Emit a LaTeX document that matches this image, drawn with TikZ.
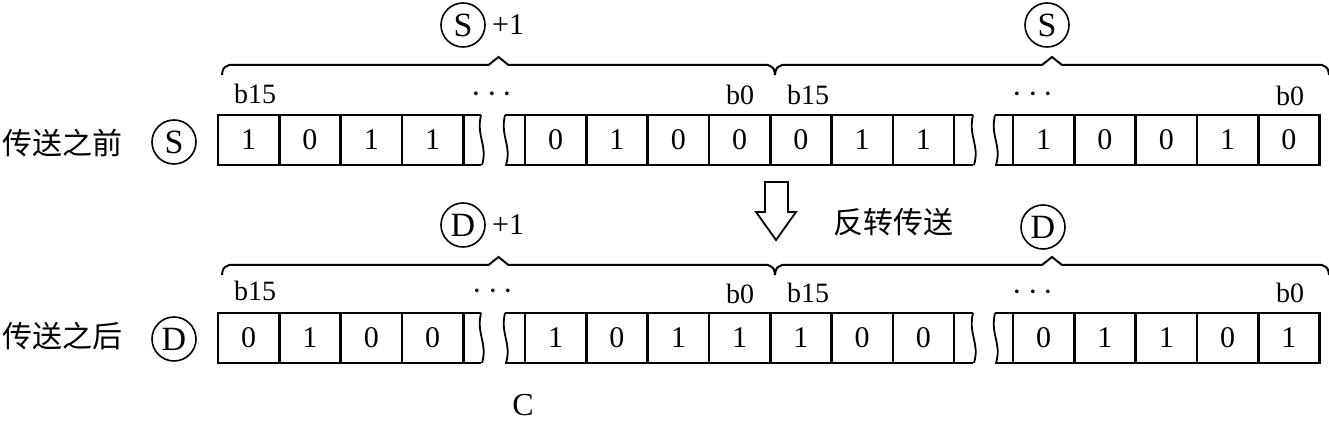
\documentclass[tikz,border=0pt]{standalone}
\usepackage{fontspec}
\setmainfont{Liberation Serif}
\newfontfamily\cjk{Noto Sans CJK SC}
\usetikzlibrary{positioning}
\tikzset{
  bitcell/.style={draw,line width=1.3pt,minimum width=30.65pt,minimum height=25pt,
    inner sep=0pt,outer sep=0pt,font=\fontsize{15}{18}\selectfont},
  boxline/.style={line width=1.3pt},
  tear/.style={line width=0.9pt},
  reg/.style={circle,draw,line width=0.8pt,minimum size=22pt,inner sep=0pt,
    font=\fontsize{17}{20}\selectfont},
  bitlbl/.style={font=\fontsize{14}{16}\selectfont,inner sep=1pt},
  gap/.style={font=\fontsize{18}{20}\selectfont,inner sep=1pt},
  cn/.style={font=\cjk\fontsize{15}{18}\selectfont},
}
\newcommand{\bitrow}[5]{%
  \foreach \bitval [count=\i] in {#3}
    \node[bitcell] (#2a\i) at (218+\i*61.3-30.65,#1+25) {\bitval};
  \foreach \bitval [count=\i] in {#4}
    \node[bitcell] (#2b\i) at (525+\i*61.3-30.65,#1+25) {\bitval};
  \foreach \bitval [count=\i] in {#5}
    \node[bitcell] (#2c\i) at (1013+\i*61.3-30.65,#1+25) {\bitval};
  \draw[boxline] (#2a4.north east) -- ++(18,0) (#2a4.south east) -- ++(18,0);
  \draw[boxline] (#2b1.north west) -- ++(-20,0) (#2b1.south west) -- ++(-20,0);
  \draw[boxline] (#2b7.north east) -- ++(19,0) (#2b7.south east) -- ++(19,0);
  \draw[boxline] (#2c1.north west) -- ++(-18,0) (#2c1.south west) -- ++(-18,0);
  \draw[tear] (481,#1) .. controls (476,#1+22) and (488,#1+30) .. (482,#1+50);
  \draw[tear] (505,#1) .. controls (500,#1+22) and (512,#1+30) .. (506,#1+50);
  \draw[tear] (973,#1) .. controls (968,#1+22) and (980,#1+30) .. (974,#1+50);
  \draw[tear] (995,#1) .. controls (990,#1+22) and (1002,#1+30) .. (996,#1+50);
}
\newcommand{\wordbrace}[3]{%
  \draw[line width=1pt] (#1,#3+10) .. controls (#1+1,#3+3) .. (#1+7,#3)
    -- ({(#1+#2)/2-10},#3) -- ({(#1+#2)/2},#3-8) -- ({(#1+#2)/2+10},#3)
    -- (#2-7,#3) .. controls (#2-1,#3+3) .. (#2,#3+10);
}

\begin{document}
\begin{tikzpicture}[x=0.5pt,y=-0.5pt]
  \useasboundingbox (0,0) rectangle (1329,421);

  % before
  \node[cn] (before) at (63,143) {传送之前};
  \node[reg] (sreg) at (174,142) {S};
  \bitrow{115}{s}{1,0,1,1}{0,1,0,0,0,1,1}{1,0,0,1,0}
  \wordbrace{222}{775}{65}
  \wordbrace{775}{1329}{65}
  \node[reg] (s1) at (463,25) {S};
  \node[bitlbl,font=\fontsize{15}{18}\selectfont,right=2pt of s1] (s1p) {+1};
  \node[reg] (s0) at (1047,25) {S};
  \node[bitlbl] (sb15a) at (255,94) {b15};
  \node[gap] (sdots1) at (492,95) {$\cdots$};
  \node[bitlbl] (sb0a) at (740,95) {b0};
  \node[bitlbl] (sb15b) at (808,95) {b15};
  \node[gap] (sdots2) at (1033,95) {$\cdots$};
  \node[bitlbl] (sb0b) at (1290,96) {b0};

  \draw[line width=0.9pt] (765,182) -- (788,182) -- (788,212) -- (796,212)
    -- (776,240) -- (756,212) -- (765,212) -- cycle;
  \node[cn] (mode) at (893,222) {反转传送};

  % after
  \node[cn] (after) at (63,336) {传送之后};
  \node[reg] (dreg) at (174,339) {D};
  \bitrow{313}{d}{0,1,0,0}{1,0,1,1,1,0,0}{0,1,1,0,1}
  \wordbrace{222}{775}{265}
  \wordbrace{775}{1329}{265}
  \node[reg] (d1) at (463,225) {D};
  \node[bitlbl,font=\fontsize{15}{18}\selectfont,right=2pt of d1] (d1p) {+1};
  \node[reg] (d0) at (1043,227) {D};
  \node[bitlbl] (db15a) at (255,291) {b15};
  \node[gap] (ddots1) at (493,292) {$\cdots$};
  \node[bitlbl] (db0a) at (740,294) {b0};
  \node[bitlbl] (db15b) at (808,293) {b15};
  \node[gap] (ddots2) at (1033,293) {$\cdots$};
  \node[bitlbl] (db0b) at (1290,293) {b0};

  \node[font=\fontsize{16}{18}\selectfont] (cap) at (523,405) {C};
\end{tikzpicture}
\end{document}
